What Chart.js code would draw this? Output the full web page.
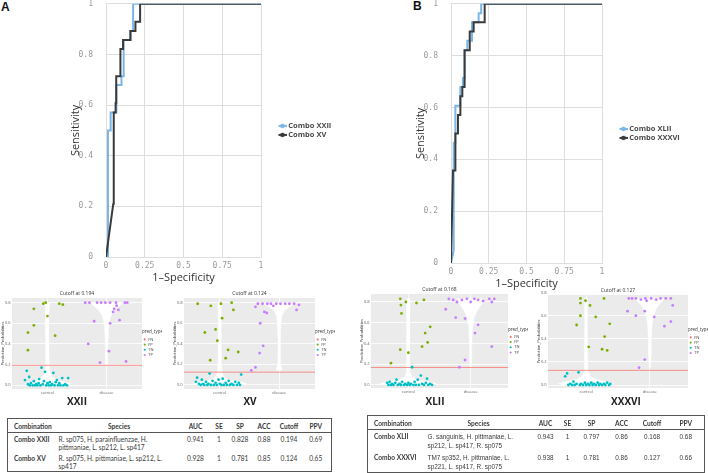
<!DOCTYPE html>
<html>
<head>
<meta charset="utf-8">
<script src="https://cdn.jsdelivr.net/npm/chart.js@4.4.1/dist/chart.umd.min.js"></script>
<style>
  body { margin: 0; background: #fff; }
  #page { position: relative; width: 708px; height: 473px; overflow: hidden; font-family: Lato, sans-serif; }
  canvas { position: absolute; }
  .tag { position: absolute; font: bold 12px 'Liberation Sans', sans-serif; color: #111; }
  .cap { position: absolute; top: 394px; font: bold 10px 'Open Sans', sans-serif; color: #222; transform: translateX(-50%); }
  .tbl { position: absolute; border-collapse: collapse; table-layout: fixed; border: 1.6px solid #555; color: #3a3a3a; font-size: 6.6px; }
  .tbl th { height: 13px; padding: 0; border-bottom: 1px solid #555; font-weight: bold; text-align: center; }
  .tbl th:first-child { text-align: left; padding-left: 6px; }
  .tbl td { padding: 2px 0 1px; line-height: 8px; text-align: center; vertical-align: top; }
  .tbl td.c { text-align: left; padding-left: 6px; font-weight: bold; }
  .tbl td.s { text-align: left; padding-left: 3px; }
  #tabB td { font-family: 'Liberation Sans', sans-serif; font-size: 6.4px; line-height: 9px; }
  #tabB td.c { font-family: Lato, sans-serif; font-size: 6.6px; }
</style>
</head>
<body>
<div id="page">
  <div class="tag" style="left:1px;top:0px">A</div>
  <div class="tag" style="left:413px;top:-1px">B</div>

  <canvas id="rocA" width="276" height="298" style="left:65px;top:-14px"></canvas>
  <canvas id="rocB" width="272" height="304" style="left:410px;top:-14px"></canvas>

  <canvas id="pXXII" width="162" height="109" style="left:0px;top:289px"></canvas>
  <canvas id="pXV" width="163" height="109" style="left:172px;top:289px"></canvas>
  <canvas id="pXLII" width="169" height="112" style="left:359px;top:285px"></canvas>
  <canvas id="pXXXVI" width="172" height="111" style="left:536px;top:286px"></canvas>

  <div class="cap" style="left:77px">XXII</div>
  <div class="cap" style="left:250px">XV</div>
  <div class="cap" style="left:435px">XLII</div>
  <div class="cap" style="left:626px">XXXVI</div>

  <table class="tbl" id="tabA" style="left:7px;top:418px;width:324px">
    <colgroup><col style="width:48px"><col style="width:127px"><col style="width:26px"><col style="width:21px"><col style="width:21px"><col style="width:27px"><col style="width:23px"><col style="width:31px"></colgroup>
    <tbody></tbody>
  </table>
  <table class="tbl" id="tabB" style="left:367px;top:415px;width:337px">
    <colgroup><col style="width:57px"><col style="width:108px"><col style="width:26px"><col style="width:18px"><col style="width:30px"><col style="width:30px"><col style="width:31px"><col style="width:37px"></colgroup>
    <tbody></tbody>
  </table>
</div>

<script>
// ROC CURVES (1-specificity / sensitivity)
const rocTicksX = [0, 0.25, 0.5, 0.75, 1];
const rocTicksY = [0, 0.2, 0.4, 0.6, 0.8, 1];

const xxiiFpr = [0, 0.013, 0.013, 0.03, 0.03, 0.067, 0.067, 0.1, 0.1, 0.114, 0.114, 0.16, 0.16, 0.175, 0.175, 1];
const xxiiTpr = [0, 0, 0.5, 0.5, 0.571, 0.571, 0.679, 0.679, 0.714, 0.714, 0.857, 0.857, 0.893, 0.893, 1, 1];
const xvFpr = [0, 0.047, 0.05, 0.062, 0.062, 0.066, 0.066, 0.093, 0.093, 0.11, 0.11, 0.157, 0.157, 0.19, 0.19, 0.22, 0.22, 1];
const xvTpr = [0, 0.21, 0.571, 0.571, 0.607, 0.607, 0.714, 0.714, 0.821, 0.821, 0.857, 0.857, 0.893, 0.893, 0.929, 0.929, 1, 1];

const xliiFpr = [0, 0.018, 0.018, 0.029, 0.029, 0.062, 0.062, 0.079, 0.079, 0.09, 0.09, 0.108, 0.108, 0.139, 0.139, 0.183, 0.183, 0.2, 0.2, 1];
const xliiTpr = [0, 0.049, 0.464, 0.464, 0.607, 0.607, 0.679, 0.679, 0.714, 0.714, 0.821, 0.821, 0.857, 0.857, 0.929, 0.929, 0.964, 0.964, 1, 1];
const xxxviFpr = [0, 0.013, 0.029, 0.029, 0.046, 0.046, 0.062, 0.062, 0.075, 0.075, 0.09, 0.09, 0.124, 0.124, 0.15, 0.15, 0.223, 0.223, 1];
const xxxviTpr = [0, 0.357, 0.357, 0.5, 0.5, 0.571, 0.571, 0.643, 0.643, 0.679, 0.679, 0.821, 0.821, 0.893, 0.893, 0.929, 0.929, 1, 1];

// PREDICTION PANELS
const groups = ['control', 'disease'];
const predTypes = ['FN', 'FP', 'TN', 'TP'];
const predColors = ['#f8766d', '#7cae00', '#00bfc4', '#c77cff'];
const probTicks = [0, 0.2, 0.4, 0.6, 0.8];

const xxiiCutoff = 0.194;
const xxiiFP = [[0.77,0.74],[0.93,0.79],[0.97,0.8],[1.2,0.79],[1.26,0.78],[1.0,0.67],[0.77,0.58],[0.67,0.51],[1.13,0.48],[0.67,0.34]];
const xxiiTN = [[0.62,0.05],[0.65,0.14],[0.67,0.01],[0.69,0.08],[0.7,0.0],[0.72,0.02],[0.75,0.0],[0.77,0.04],[0.79,0.0],[0.81,0.01],[0.83,0.0],[0.85,0.02],[0.86,0.06],[0.88,0.0],[0.9,0.17],[0.92,0.01],[0.94,0.04],[0.96,0.13],[0.98,0.0],[1.0,0.02],[1.02,0.0],[1.04,0.03],[1.06,0.0],[1.08,0.01],[1.1,0.12],[1.12,0.0],[1.14,0.03],[1.16,0.05],[1.18,0.0],[1.2,0.02],[1.22,0.0],[1.25,0.07],[1.27,0.0],[1.3,0.01],[1.33,0.0],[1.35,0.07]];
const xxiiTP = [[1.64,0.8],[1.71,0.8],[1.84,0.8],[1.91,0.8],[1.98,0.8],[2.06,0.8],[2.16,0.8],[2.31,0.8],[2.35,0.8],[2.17,0.77],[2.13,0.74],[2.2,0.73],[2.11,0.71],[1.79,0.62],[2.06,0.6],[2.22,0.63],[1.69,0.4],[2.04,0.33],[1.89,0.22],[2.33,0.23]];
const xxiiViolinCtrl = [[0,0.33],[0.015,0.4],[0.03,0.3],[0.05,0.15],[0.08,0.08],[0.12,0.045],[0.2,0.03],[0.4,0.025],[0.6,0.025],[0.75,0.03],[0.8,0.04]];
const xxiiViolinDis = [[0.2,0.015],[0.3,0.02],[0.45,0.025],[0.55,0.035],[0.62,0.05],[0.68,0.08],[0.73,0.14],[0.77,0.22],[0.8,0.28]];

const xvCutoff = 0.124;
const xvFP = [[0.63,0.79],[0.85,0.77],[1.02,0.79],[1.2,0.8],[1.23,0.73],[1.04,0.65],[0.75,0.51],[0.93,0.54],[0.96,0.43],[1.14,0.34],[1.31,0.32],[1.1,0.26],[0.84,0.24]];
const xvTN = [[0.6,0.03],[0.62,0.07],[0.65,0.01],[0.68,0.0],[0.7,0.05],[0.72,0.01],[0.74,0.0],[0.77,0.03],[0.79,0.0],[0.81,0.01],[0.83,0.11],[0.85,0.0],[0.88,0.04],[0.9,0.0],[0.93,0.02],[0.95,0.0],[0.98,0.05],[1.0,0.01],[1.03,0.0],[1.05,0.06],[1.07,0.0],[1.1,0.02],[1.12,0.0],[1.15,0.04],[1.17,0.0],[1.2,0.01],[1.23,0.0],[1.26,0.03],[1.29,0.0],[1.32,0.02],[1.36,0.1],[1.34,0.0]];
const xvTP = [[1.64,0.79],[1.72,0.79],[1.8,0.79],[1.86,0.79],[1.95,0.79],[2.02,0.79],[2.1,0.79],[2.17,0.79],[2.25,0.79],[2.33,0.78],[1.6,0.76],[1.75,0.71],[1.79,0.7],[1.68,0.6],[1.73,0.38],[1.67,0.31],[2.29,0.73],[1.6,0.17],[1.53,0.14],[1.9,0.77]];
const xvViolinCtrl = [[0,0.4],[0.015,0.45],[0.03,0.33],[0.05,0.16],[0.08,0.07],[0.12,0.04],[0.2,0.03],[0.4,0.025],[0.6,0.025],[0.75,0.03],[0.8,0.03]];
const xvViolinDis = [[0.14,0.03],[0.15,0.05],[0.17,0.04],[0.2,0.02],[0.35,0.02],[0.5,0.025],[0.6,0.03],[0.68,0.05],[0.73,0.1],[0.77,0.2],[0.8,0.33]];

const xliiCutoff = 0.168;
const xliiFP = [[0.87,0.83],[0.96,0.8],[0.88,0.77],[1.25,0.82],[1.13,0.79],[0.89,0.69],[1.35,0.56],[1.27,0.5],[1.31,0.41],[1.22,0.37],[0.87,0.34],[1.0,0.31],[0.72,0.21]];
const xliiTN = [[0.66,0.02],[0.68,0.0],[0.7,0.03],[0.72,0.0],[0.74,0.01],[0.76,0.0],[0.79,0.02],[0.81,0.05],[0.83,0.0],[0.86,0.01],[0.88,0.0],[0.9,0.03],[0.93,0.0],[0.95,0.01],[0.98,0.0],[1.0,0.02],[1.02,0.0],[1.04,0.01],[1.06,0.17],[1.08,0.0],[1.1,0.03],[1.12,0.0],[1.15,0.05],[1.17,0.0],[1.2,0.09],[1.22,0.01],[1.25,0.0],[1.28,0.02],[1.3,0.06],[1.32,0.0],[1.35,0.01],[1.38,0.0]];
const xliiTP = [[1.65,0.83],[1.72,0.82],[1.78,0.8],[1.86,0.82],[1.94,0.83],[2.0,0.8],[2.06,0.83],[2.12,0.82],[2.2,0.81],[2.3,0.83],[2.38,0.83],[2.34,0.8],[1.6,0.73],[1.76,0.65],[1.91,0.64],[2.12,0.58],[2.07,0.5],[2.34,0.37],[1.91,0.24],[1.82,0.17]];
const xliiViolinCtrl = [[0,0.4],[0.015,0.45],[0.03,0.3],[0.05,0.14],[0.08,0.06],[0.12,0.03],[0.2,0.025],[0.4,0.025],[0.6,0.025],[0.8,0.03],[0.83,0.03]];
const xliiViolinDis = [[0.17,0.01],[0.25,0.02],[0.4,0.02],[0.55,0.03],[0.65,0.06],[0.72,0.11],[0.78,0.18],[0.83,0.22]];

const xxxviCutoff = 0.127;
const xxxviFP = [[0.91,0.75],[0.99,0.73],[0.91,0.71],[1.06,0.69],[1.28,0.75],[0.91,0.6],[1.15,0.59],[0.85,0.52],[1.37,0.53],[1.29,0.42],[1.04,0.33],[1.25,0.31],[1.33,0.3]];
const xxxviTN = [[0.67,0.075],[0.7,0.1],[0.72,0.0],[0.75,0.01],[0.78,0.0],[0.8,0.03],[0.82,0.0],[0.85,0.01],[0.88,0.11],[0.9,0.0],[0.92,0.01],[0.95,0.0],[0.98,0.02],[1.0,0.0],[1.03,0.01],[1.05,0.0],[1.08,0.02],[1.1,0.0],[1.12,0.01],[1.15,0.0],[1.18,0.02],[1.2,0.0],[1.22,0.01],[1.25,0.0],[1.28,0.01],[1.3,0.0],[1.33,0.02],[1.36,0.0],[1.38,0.01]];
const xxxviTP = [[1.67,0.75],[1.72,0.75],[1.78,0.75],[1.86,0.74],[1.93,0.75],[2.02,0.75],[2.1,0.74],[2.17,0.75],[2.25,0.75],[2.33,0.75],[1.95,0.73],[1.65,0.64],[1.78,0.6],[1.92,0.64],[2.07,0.59],[2.23,0.51],[2.33,0.55],[2.36,0.69],[1.92,0.22],[1.83,0.15]];
const xxxviViolinCtrl = [[0,0.38],[0.015,0.44],[0.03,0.3],[0.05,0.14],[0.08,0.06],[0.12,0.03],[0.2,0.025],[0.3,0.025],[0.33,0.04],[0.36,0.025],[0.6,0.02],[0.75,0.02]];
const xxxviViolinDis = [[0.15,0.01],[0.25,0.02],[0.4,0.025],[0.52,0.035],[0.6,0.06],[0.66,0.1],[0.71,0.17],[0.75,0.24]];

// TABLES
const tableHeaders = ['Combination', 'Species', 'AUC', 'SE', 'SP', 'ACC', 'Cutoff', 'PPV'];
const tabACombos = ['Combo XXII', 'Combo XV'];
const tabASpecies = [['R. sp075, H. parainfluenzae, H.', 'pittmaniae, L. sp212, L. sp417'], ['R. sp075, H. pittmaniae, L. sp212, L.', 'sp417']];
const tabAAuc = ['0.941', '0.928'];
const tabASe = ['1', '1'];
const tabASp = ['0.828', '0.781'];
const tabAAcc = ['0.88', '0.85'];
const tabACutoff = ['0.194', '0.124'];
const tabAPpv = ['0.69', '0.65'];
const tabBCombos = ['Combo XLII', 'Combo XXXVI'];
const tabBSpecies = [['G. sanguinis, H. pittmaniae, L.', 'sp212, L. sp417, R. sp075'], ['TM7 sp352, H. pittmaniae, L.', 'sp221, L. sp417, R. sp075']];
const tabBAuc = ['0.943', '0.938'];
const tabBSe = ['1', '1'];
const tabBSp = ['0.797', '0.781'];
const tabBAcc = ['0.86', '0.86'];
const tabBCutoff = ['0.168', '0.127'];
const tabBPpv = ['0.68', '0.66'];

Chart.defaults.font.family = "'Open Sans', sans-serif";
Chart.defaults.animation = false;
Chart.defaults.responsive = false;
Chart.defaults.plugins.tooltip.enabled = false;

// little line + dot used as legend key, pushed to the right of the key box
function legendMarker(color) {
  const c = document.createElement('canvas');
  c.width = 26; c.height = 8;
  const g = c.getContext('2d');
  g.strokeStyle = color; g.lineWidth = 2;
  g.beginPath(); g.moveTo(18, 4); g.lineTo(26, 4); g.stroke();
  g.fillStyle = color;
  g.beginPath(); g.arc(22, 4, 2.3, 0, Math.PI * 2); g.fill();
  return c;
}

function drawRoc(id, curves) {
  new Chart(document.getElementById(id), {
    type: 'scatter',
    data: {
      datasets: curves.map(c => ({
        label: c.label,
        data: c.fpr.map((x, i) => ({ x: x, y: c.tpr[i] })),
        showLine: true,
        borderColor: c.color,
        backgroundColor: c.color,
        borderWidth: 2,
        pointRadius: 0,
        pointStyle: legendMarker(c.color),
        order: c.order,
      }))
    },
    options: {
      layout: { padding: { top: 8 } },
      plugins: {
        legend: {
          position: 'right', fullSize: false, maxWidth: 80,
          labels: {
            usePointStyle: true, pointStyleWidth: 22, padding: 1.5,
            color: '#4a4a4a', font: { size: 7.5, weight: 'bold' },
            sort: (a, b) => a.datasetIndex - b.datasetIndex,
          }
        }
      },
      scales: {
        x: {
          type: 'linear', min: 0, max: 1,
          afterBuildTicks: s => { s.ticks = rocTicksX.map(v => ({ value: v })); },
          afterFit: s => { s.height = 27; },
          grid: { color: '#dedede', drawTicks: false },
          border: { color: '#dedede' },
          ticks: { padding: 4, color: '#9a9a9a', maxRotation: 0, font: { size: 8, family: "'DejaVu Sans Mono', monospace" }, callback: v => String(v) },
          title: { display: true, text: '1–Specificity', color: '#333', font: { size: 11 }, padding: 0 },
        },
        y: {
          type: 'linear', min: 0, max: 1,
          afterBuildTicks: s => { s.ticks = rocTicksY.map(v => ({ value: v })); },
          afterFit: s => { s.width = 41; },
          grid: { color: '#dedede', drawTicks: false },
          border: { color: '#dedede' },
          ticks: { padding: 13, color: '#9a9a9a', font: { size: 8, family: "'DejaVu Sans Mono', monospace" }, callback: v => String(v) },
          title: { display: true, text: 'Sensitivity', color: '#333', font: { size: 11 }, padding: { top: 4, bottom: 0 } },
        }
      }
    }
  });
}

drawRoc('rocA', [
  { label: 'Combo XXII', fpr: xxiiFpr, tpr: xxiiTpr, color: '#7ab6e6', order: 1 },
  { label: 'Combo XV', fpr: xvFpr, tpr: xvTpr, color: '#3a3a3a', order: 0 },
]);
drawRoc('rocB', [
  { label: 'Combo XLII', fpr: xliiFpr, tpr: xliiTpr, color: '#7ab6e6', order: 1 },
  { label: 'Combo XXXVI', fpr: xxxviFpr, tpr: xxxviTpr, color: '#3a3a3a', order: 0 },
]);

const pts = arr => arr.map(p => ({ x: p[0], y: p[1] }));
// violin outline: right side going up, left side coming back down
const violin = (centre, prof) => prof.map(p => ({ x: centre + p[1], y: p[0] }))
  .concat(prof.slice().reverse().map(p => ({ x: centre - p[1], y: p[0] })));

const panelBg = {
  id: 'panelBg',
  beforeDraw(chart) {
    const { ctx, chartArea: a } = chart;
    ctx.save();
    ctx.fillStyle = '#ebebeb';
    ctx.fillRect(a.left, a.top, a.width, a.height);
    ctx.restore();
  }
};

function drawPanel(id, p) {
  const groupsData = [[], p.fp, p.tn, p.tp];
  const datasets = predTypes.map((t, i) => ({
    label: t,
    data: pts(groupsData[i]),
    backgroundColor: predColors[i],
    borderColor: predColors[i],
    pointRadius: 1.4,
    pointBorderWidth: 0,
  }));
  datasets.push({
    label: 'cutoff',
    data: [{ x: 0.4, y: p.cutoff }, { x: 2.6, y: p.cutoff }],
    showLine: true, borderColor: '#f8766d', borderWidth: 0.8, pointRadius: 0,
  });
  datasets.push({
    label: 'violin control', data: violin(1, p.vCtrl), showLine: true, fill: 'shape',
    backgroundColor: '#ffffff', borderColor: '#ffffff', borderWidth: 0.3, pointRadius: 0,
  });
  datasets.push({
    label: 'violin disease', data: violin(2, p.vDis), showLine: true, fill: 'shape',
    backgroundColor: '#ffffff', borderColor: '#ffffff', borderWidth: 0.3, pointRadius: 0,
  });

  new Chart(document.getElementById(id), {
    type: 'scatter',
    data: { datasets: datasets },
    plugins: [panelBg],
    options: {
      plugins: {
        title: {
          display: true, text: 'Cutoff at ' + p.cutoff, fullSize: false,
          color: '#333', font: { size: 5, weight: 'normal' }, padding: { top: 2, bottom: 1 },
        },
        legend: {
          position: 'right', fullSize: false, maxWidth: 20,
          title: { display: true, text: 'pred_type', color: '#333', font: { size: 4.5 }, padding: 1, position: 'start' },
          labels: {
            usePointStyle: true, pointStyle: 'circle', boxWidth: 3, boxHeight: 1.5, padding: 1.2,
            color: '#444', font: { size: 4 },
            filter: item => item.datasetIndex < 4,
          }
        }
      },
      scales: {
        x: {
          type: 'linear', min: 0.4, max: 2.6,
          afterBuildTicks: s => { s.ticks = [1, 2].map(v => ({ value: v })); },
          afterFit: s => { s.height = 9; },
          grid: { color: '#ffffff', lineWidth: 0.8, drawTicks: false },
          border: { display: false },
          ticks: { padding: 1.5, color: '#666', maxRotation: 0, font: { size: 4 }, callback: v => groups[v - 1] },
        },
        y: {
          type: 'linear', min: p.yMin, max: p.yMax,
          afterBuildTicks: s => { s.ticks = probTicks.map(v => ({ value: v })); },
          afterFit: s => { s.width = 12; },
          grid: { color: '#ffffff', lineWidth: 0.8, drawTicks: false },
          border: { display: false },
          ticks: { padding: 1.5, color: '#666', font: { size: 4 }, callback: v => v.toFixed(1) },
          title: { display: true, text: 'Prediction_Probabilities', color: '#333', font: { size: 4 }, padding: 0 },
        }
      }
    }
  });
}

drawPanel('pXXII', { cutoff: xxiiCutoff, fp: xxiiFP, tn: xxiiTN, tp: xxiiTP, vCtrl: xxiiViolinCtrl, vDis: xxiiViolinDis, yMin: -0.036, yMax: 0.845 });
drawPanel('pXV', { cutoff: xvCutoff, fp: xvFP, tn: xvTN, tp: xvTP, vCtrl: xvViolinCtrl, vDis: xvViolinDis, yMin: -0.04, yMax: 0.846 });
drawPanel('pXLII', { cutoff: xliiCutoff, fp: xliiFP, tn: xliiTN, tp: xliiTP, vCtrl: xliiViolinCtrl, vDis: xliiViolinDis, yMin: -0.03, yMax: 0.877 });
drawPanel('pXXXVI', { cutoff: xxxviCutoff, fp: xxxviFP, tn: xxxviTN, tp: xxxviTP, vCtrl: xxxviViolinCtrl, vDis: xxxviViolinDis, yMin: -0.026, yMax: 0.78 });

function fillTable(id, combos, species, cols) {
  let html = '<tr>' + tableHeaders.map(h => '<th>' + h + '</th>').join('') + '</tr>';
  combos.forEach((c, i) => {
    html += '<tr><td class="c">' + c + '</td><td class="s">' + species[i].join('<br>') + '</td>' +
      cols.map(col => '<td>' + col[i] + '</td>').join('') + '</tr>';
  });
  document.querySelector('#' + id + ' tbody').innerHTML = html;
}

fillTable('tabA', tabACombos, tabASpecies, [tabAAuc, tabASe, tabASp, tabAAcc, tabACutoff, tabAPpv]);
fillTable('tabB', tabBCombos, tabBSpecies, [tabBAuc, tabBSe, tabBSp, tabBAcc, tabBCutoff, tabBPpv]);
</script>
</body>
</html>
